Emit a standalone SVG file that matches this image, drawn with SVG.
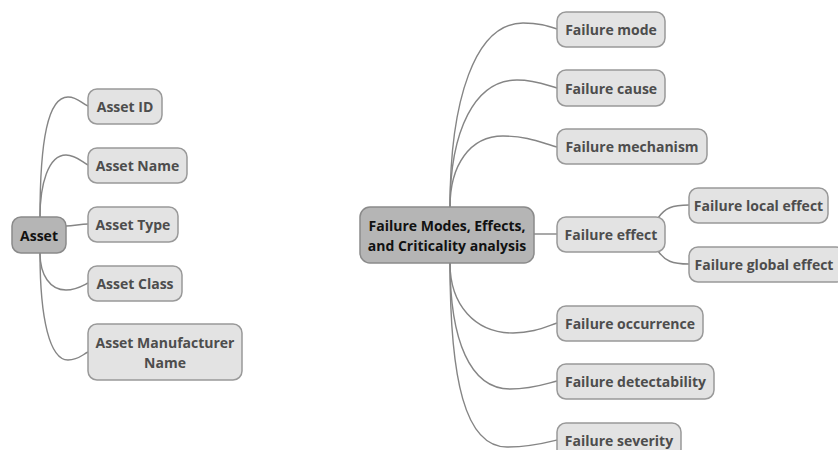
<svg xmlns="http://www.w3.org/2000/svg" width="838" height="450" viewBox="0 0 838 450">
<style>
.n rect{fill:#e3e3e3;stroke:#999;stroke-width:1.5}
.r rect{fill:#b5b5b5;stroke:#8a8a8a;stroke-width:1.5}
text{font-family:"Open Sans","Noto Sans","DejaVu Sans",sans-serif;font-weight:bold;font-size:14px;text-anchor:middle;dominant-baseline:central}
.n text{fill:#4d4d4d}
.r text{fill:#111}
#edges path{fill:none;stroke:#858585;stroke-width:1.4}
</style>
<rect width="838" height="450" fill="#fff"/>
<g id="edges">
<path d="M40,217 C40,140 48,97 68,97 C78,97 82,104 88,106"/>
<path d="M40,217 C40,185 48,155 66,155 C76,155 82,162 88,165"/>
<path d="M66,226 C74,226 80,224 88,224"/>
<path d="M40,253 C40,275 50,290 66,290 C76,290 82,286 88,283"/>
<path d="M40,253 C40,320 50,360 68,360 C78,360 82,355 88,352"/>
<path d="M450,207 C450,100 475,23 523,23 C540,23 548,26 557,29"/>
<path d="M450,207 C450,130 475,80 517,80 C536,80 546,85 557,88"/>
<path d="M450,207 C450,165 470,136 503,136 C528,136 542,143 557,147"/>
<path d="M534,234 L557,234"/>
<path d="M658,218 C665,208 672,205 689,205"/>
<path d="M658,251 C665,261 672,264 689,264"/>
<path d="M450,263 C450,305 475,333 513,333 C533,333 545,327 557,323"/>
<path d="M450,263 C450,340 470,389 510,389 C532,389 545,384 557,381"/>
<path d="M450,263 C450,380 465,447 507,447 C530,447 545,443 557,440"/>
</g>
<g id="asset" class="r"><rect x="12" y="217" width="54" height="36" rx="9"/><text x="39" y="235">Asset</text></g>
<g id="asset-id" class="n"><rect x="88" y="89" width="74" height="35" rx="9"/><text x="125" y="106.5">Asset ID</text></g>
<g id="asset-name" class="n"><rect x="88" y="148" width="99" height="35" rx="9"/><text x="137.5" y="165.5">Asset Name</text></g>
<g id="asset-type" class="n"><rect x="88" y="207" width="90" height="35" rx="9"/><text x="133" y="224.5">Asset Type</text></g>
<g id="asset-class" class="n"><rect x="88" y="266" width="94" height="35" rx="9"/><text x="135" y="283.5">Asset Class</text></g>
<g id="asset-manufacturer" class="n"><rect x="88" y="324" width="154" height="56" rx="9"/><text x="165" y="342">Asset Manufacturer</text><text x="165" y="362">Name</text></g>
<g id="fmeca" class="r"><rect x="360" y="207" width="174" height="56" rx="10"/><text x="447" y="225">Failure Modes, Effects,</text><text x="447" y="245">and Criticality analysis</text></g>
<g id="failure-mode" class="n"><rect x="557" y="12" width="108" height="35" rx="9"/><text x="611" y="29.5">Failure mode</text></g>
<g id="failure-cause" class="n"><rect x="557" y="70" width="108" height="36" rx="9"/><text x="611" y="88">Failure cause</text></g>
<g id="failure-mechanism" class="n"><rect x="557" y="129" width="150" height="35" rx="9"/><text x="632" y="146.5">Failure mechanism</text></g>
<g id="failure-effect" class="n"><rect x="557" y="217" width="108" height="35" rx="9"/><text x="611" y="234.5">Failure effect</text></g>
<g id="failure-local-effect" class="n"><rect x="689" y="188" width="139" height="35" rx="9"/><text x="758.5" y="205.5">Failure local effect</text></g>
<g id="failure-global-effect" class="n"><rect x="689" y="247" width="156" height="35" rx="9"/><text x="764" y="264.5">Failure global effect</text></g>
<g id="failure-occurrence" class="n"><rect x="557" y="306" width="146" height="35" rx="9"/><text x="630" y="323.5">Failure occurrence</text></g>
<g id="failure-detectability" class="n"><rect x="557" y="364" width="157" height="35" rx="9"/><text x="635.5" y="381.5">Failure detectability</text></g>
<g id="failure-severity" class="n"><rect x="557" y="423" width="124" height="35" rx="9"/><text x="619" y="440.5">Failure severity</text></g>
</svg>
